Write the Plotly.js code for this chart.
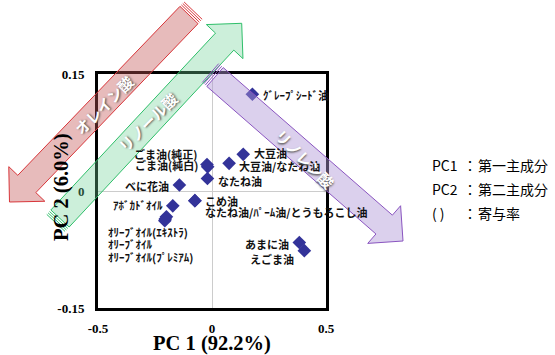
<!DOCTYPE html>
<html><head><meta charset="utf-8">
<script src="https://cdn.plot.ly/plotly-3.0.1.min.js"></script>
<style>html,body{margin:0;padding:0;background:#fff}#chart{width:555px;height:355px}</style>
</head><body><div id="chart"></div>
<script>
// ---- data ----
const oilNames = ['グレープシード油','大豆油','大豆油/なたね油','ごま油(純正)','ごま油(純白)','なたね油','べに花油','こめ油','なたね油/パーム油/とうもろこし油','アボカドオイル','オリーブオイル(エキストラ)','オリーブオイル','オリーブオイル(プレミアム)','あまに油','えごま油'];
const labelText = ['ｸﾞﾚｰﾌﾟｼｰﾄﾞ油','大豆油','大豆油/なたね油','ごま油(純正)','ごま油(純白)','なたね油','べに花油','こめ油','なたね油/ﾊﾟｰﾑ油/とうもろこし油','ｱﾎﾞｶﾄﾞｵｲﾙ','ｵﾘｰﾌﾞｵｲﾙ(ｴｷｽﾄﾗ)','ｵﾘｰﾌﾞｵｲﾙ','ｵﾘｰﾌﾞｵｲﾙ(ﾌﾟﾚﾐｱﾑ)','あまに油','えごま油'];
const pc1 = [0.177, 0.137, 0.075, -0.022, -0.019, -0.020, -0.143, -0.075, -0.075, -0.172, -0.205, -0.200, -0.207, 0.383, 0.405];
const pc2 = [0.124, 0.047, 0.0355, 0.034, 0.031, 0.016, 0.0077, -0.0124, -0.0124, -0.019, -0.036, -0.033, -0.038, -0.066, -0.0765];
const xTicks = [-0.5, 0, 0.5];
const xTickText = ['-0.5', '0', '0.5'];
const yTicks = [-0.15, 0, 0.15];
const yTickText = ['-0.15', '0', '0.15'];
const xTitle = 'PC 1 (92.2%)';
const yTitle = 'PC 2 (6.0%)';
const arrowLabels = ['オレイン酸', 'リノール酸', 'リノレン酸'];
const legendKeys = ['PC1', 'PC2', '( )'];
const legendDesc = ['第一主成分', '第二主成分', '寄与率'];

// ---- label placement (layout only) ----
const place = [
  ['left', 9, -1], ['left', 9, 1], ['left', 8, -3], ['right', -8, 10.5], ['right', -8, 2],
  ['left', 9, -2], ['right', -8, -1], ['left', 8, 0], ['left', 8, -11], ['right', -8, 1],
  ['left', -59, -13], ['left', -60.4, -26.8], ['left', -58.8, -36], ['right', -8, -2], ['right', -8, -8]
];

// ---- geometry helpers (pixels -> paper) ----
const L = 98, R = 326, T = 74, B = 308;
const px = x => (x - L) / (R - L);
const py = y => (B - y) / (B - T);
function arrowPath(tail, tip, w, hw, hl) {
  const dx = tip[0] - tail[0], dy = tip[1] - tail[1];
  const len = Math.hypot(dx, dy);
  const ux = dx / len, uy = dy / len, nx = -uy, ny = ux;
  const bx = tip[0] - ux * hl, by = tip[1] - uy * hl;
  const pts = [
    [tail[0] + nx * w / 2, tail[1] + ny * w / 2],
    [bx + nx * w / 2, by + ny * w / 2],
    [bx + nx * hw / 2, by + ny * hw / 2],
    [tip[0], tip[1]],
    [bx - nx * hw / 2, by - ny * hw / 2],
    [bx - nx * w / 2, by - ny * w / 2],
    [tail[0] - nx * w / 2, tail[1] - ny * w / 2]
  ];
  return 'M' + pts.map(p => px(p[0]).toFixed(5) + ',' + py(p[1]).toFixed(5)).join(' L') + ' Z';
}
function tailLines(tail, tip, w, color) {
  const dx = tip[0] - tail[0], dy = tip[1] - tail[1];
  const len = Math.hypot(dx, dy);
  const ux = dx / len, uy = dy / len, nx = -uy, ny = ux;
  const out = [];
  [2, 4, 6].forEach(o => {
    const cx = tail[0] - ux * o, cy = tail[1] - uy * o;
    out.push({type: 'line', xref: 'paper', yref: 'paper', layer: 'above',
      x0: px(cx + nx * w / 2), y0: py(cy + ny * w / 2), x1: px(cx - nx * w / 2), y1: py(cy - ny * w / 2),
      line: {color: color, width: 1}});
  });
  return out;
}
const arrows = [
  {tail: [189, 15], tip: [9.5, 202], fill: 'rgba(195,85,85,0.40)', line: '#d8363a', text: [103, 105], angle: -45},
  {tail: [60, 218.5], tip: [241.7, 23.3], fill: 'rgba(110,210,150,0.35)', line: '#2fbf6a', text: [147, 122], angle: -45},
  {tail: [215, 77], tip: [403, 241], fill: 'rgba(175,150,215,0.45)', line: '#8a55c0', text: [305, 158], angle: 45}
];
const shapes = [];
arrows.forEach(a => {
  shapes.push({type: 'path', xref: 'paper', yref: 'paper', layer: 'above',
    path: arrowPath(a.tail, a.tip, 25, 50, 25), fillcolor: a.fill, line: {color: a.line, width: 1}});
  tailLines(a.tail, a.tip, 25, a.line).forEach(s => shapes.push(s));
});

const annotations = [];
const labFont = {family: '"Noto Sans CJK JP", sans-serif', size: 11, color: '#111', weight: 700};
oilNames.forEach((n, i) => {
  annotations.push({x: pc1[i], y: pc2[i], xref: 'x', yref: 'y', text: labelText[i], showarrow: false,
    xanchor: place[i][0], yanchor: 'middle', xshift: place[i][1], yshift: place[i][2], font: labFont});
});
arrows.forEach((a, i) => {
  annotations.push({x: px(a.text[0]), y: py(a.text[1]), xref: 'paper', yref: 'paper', text: arrowLabels[i],
    showarrow: false, textangle: a.angle, xanchor: 'center', yanchor: 'middle',
    font: {family: '"Noto Sans CJK JP", sans-serif', size: 15, color: '#ffffff', weight: 700, shadow: '1px 1px 2px #555'}});
});
// y-axis title as a rotated annotation so it sits where the reference places it
annotations.push({x: px(61), y: py(187), xref: 'paper', yref: 'paper', text: yTitle, showarrow: false,
  textangle: -90, xanchor: 'center', yanchor: 'middle',
  font: {family: '"Liberation Serif", "Times New Roman", serif', size: 20.5, color: '#000', weight: 700}});
const legY = [165, 189, 213];
legendKeys.forEach((k, i) => {
  const f = {family: '"Noto Sans CJK JP", sans-serif', size: 14, color: '#000'};
  annotations.push({x: px(430), y: py(legY[i]), xref: 'paper', yref: 'paper', text: k, showarrow: false, xanchor: 'left', yanchor: 'middle', font: f});
  annotations.push({x: px(461), y: py(legY[i]), xref: 'paper', yref: 'paper', text: '：', showarrow: false, xanchor: 'left', yanchor: 'middle', font: f});
  annotations.push({x: px(476), y: py(legY[i]), xref: 'paper', yref: 'paper', text: legendDesc[i], showarrow: false, xanchor: 'left', yanchor: 'middle', font: f});
});

const trace = {
  x: pc1, y: pc2, text: oilNames, type: 'scatter', mode: 'markers',
  marker: {symbol: 'diamond', size: 10.5, color: '#333399'},
  hoverinfo: 'text', cliponaxis: false
};
const tickFont = {family: '"Liberation Serif", "Times New Roman", serif', size: 13, color: '#000', weight: 700};
const layout = {
  width: 555, height: 355,
  margin: {l: L, r: 555 - R, t: T, b: 355 - B, pad: 0},
  paper_bgcolor: '#fff', plot_bgcolor: '#fff', showlegend: false,
  xaxis: {range: [-0.5, 0.5], tickvals: xTicks, ticktext: xTickText, showgrid: false,
    zeroline: true, zerolinecolor: '#cccccc', zerolinewidth: 1,
    showline: true, mirror: true, linecolor: '#000', linewidth: 3, ticks: '', ticklabelstandoff: 6,
    tickfont: tickFont, fixedrange: true,
    title: {text: '\u00a0\u00a0\u00a0' + xTitle, standoff: 1, font: {family: '"Liberation Serif", "Times New Roman", serif', size: 20.5, color: '#000', weight: 700}}},
  yaxis: {range: [-0.15, 0.15], tickvals: yTicks, ticktext: yTickText, showgrid: false,
    zeroline: true, zerolinecolor: '#cccccc', zerolinewidth: 1,
    showline: true, mirror: true, linecolor: '#000', linewidth: 3, ticks: '', ticklabelstandoff: 8,
    tickfont: tickFont, fixedrange: true},
  shapes: shapes, annotations: annotations
};
Plotly.newPlot('chart', [trace], layout, {displayModeBar: false, staticPlot: true});
</script></body></html>
